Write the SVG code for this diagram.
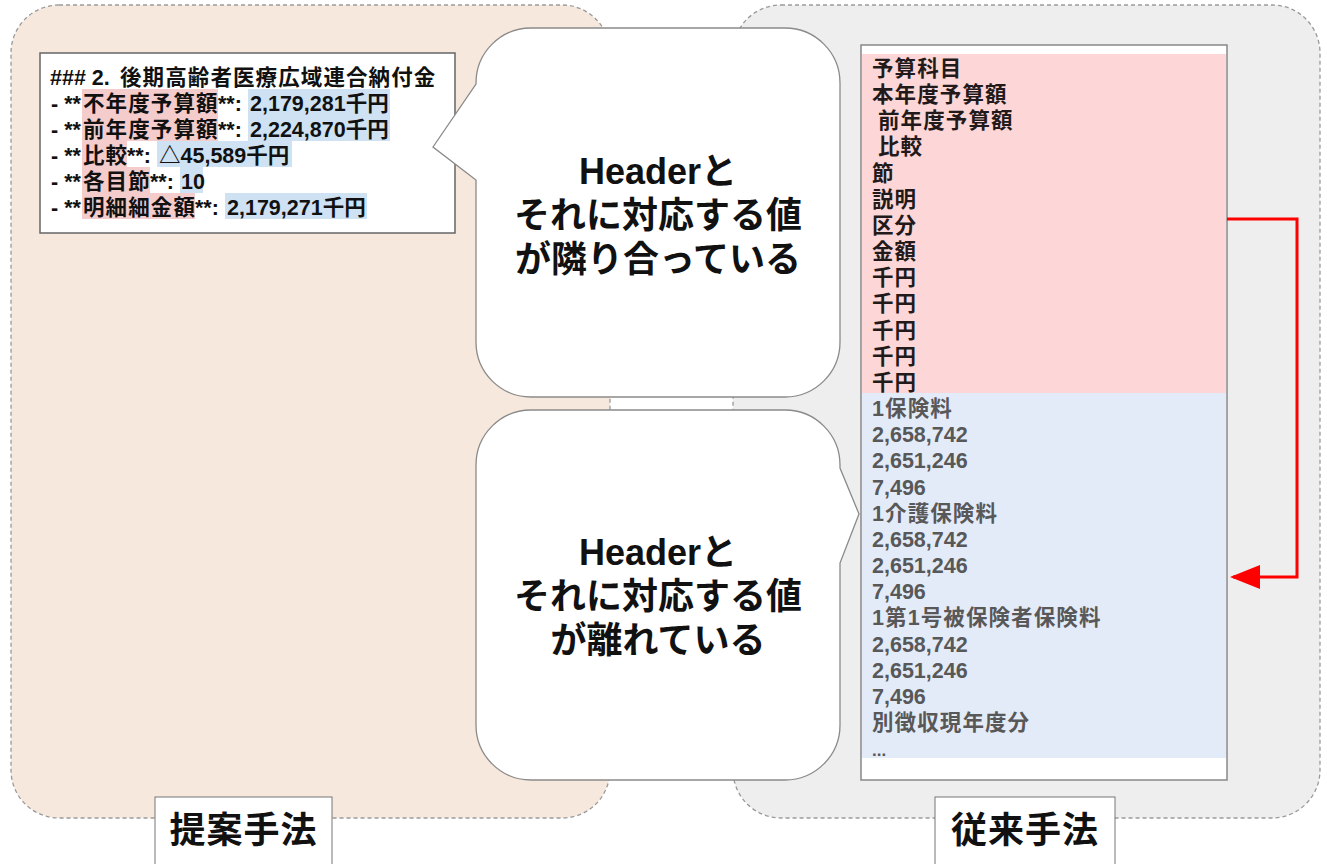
<svg xmlns="http://www.w3.org/2000/svg" width="1327" height="864" viewBox="0 0 1327 864">
<style>
text{font-family:"Liberation Sans","Noto Sans CJK JP",sans-serif;font-weight:bold}
.cont{stroke:#9a9a9a;stroke-width:1.3;stroke-dasharray:4 3}
.bub{fill:#fff;stroke:#8a8a8a;stroke-width:1.3}
.big{font-size:36px;fill:#111;text-anchor:middle}
.lt{font-size:21.5px;fill:#111}
.cj{letter-spacing:1.1px}
.pk{fill:#f4cccc}
.bl{fill:#cfe2f3}
.hd{font-size:21.5px;fill:#221a1a;letter-spacing:1.1px}
.vl{font-size:21.5px;fill:#585858}
.lab{fill:#fff;stroke:#777;stroke-width:1}
.labt{font-size:36px;fill:#111;text-anchor:middle;letter-spacing:1px}
</style>
<defs>
<marker id="ah" markerWidth="10" markerHeight="8" refX="9" refY="4" orient="auto" markerUnits="strokeWidth">
<polygon points="0,0 10,4 0,8" fill="#ff0000"/>
</marker>
</defs>
<rect width="1327" height="864" fill="#fff"/>
<g id="container-left"><rect class="cont" x="11" y="5" width="599" height="813" rx="48" fill="#f6e8dc"/></g>
<g id="container-right"><rect class="cont" x="733" y="5" width="587" height="813" rx="48" fill="#eeeeee"/></g>

<g id="proposal-box">
<rect x="40" y="53" width="415" height="180" fill="#fff" stroke="#666" stroke-width="1.5"/>
<rect class="pk" x="82" y="89" width="136" height="26"/><rect class="bl" x="248" y="89" width="142" height="26"/>
<rect class="pk" x="82" y="115" width="136" height="26"/><rect class="bl" x="248" y="115" width="142" height="26"/>
<rect class="pk" x="82" y="141" width="45" height="26"/><rect class="bl" x="157" y="141" width="135" height="26"/>
<rect class="pk" x="82" y="167" width="68" height="26"/><rect class="bl" x="180" y="167" width="23" height="26"/>
<rect class="pk" x="82" y="193" width="113" height="26"/><rect class="bl" x="225" y="193" width="142" height="26"/>
<text class="lt" y="85"><tspan x="50">### 2.</tspan><tspan x="120" class="cj">後期高齢者医療広域連合納付金</tspan></text>
<text class="lt" y="111"><tspan x="51">- **</tspan><tspan x="83" class="cj">不年度予算額</tspan><tspan x="218">**: </tspan><tspan x="250">2,179,281千円</tspan></text>
<text class="lt" y="137"><tspan x="51">- **</tspan><tspan x="83" class="cj">前年度予算額</tspan><tspan x="218">**: </tspan><tspan x="250">2,224,870千円</tspan></text>
<text class="lt" y="163"><tspan x="51">- **</tspan><tspan x="83" class="cj">比較</tspan><tspan x="127">**: </tspan><tspan x="159">△45,589千円</tspan></text>
<text class="lt" y="189"><tspan x="51">- **</tspan><tspan x="83" class="cj">各目節</tspan><tspan x="150">**: </tspan><tspan x="181">10</tspan></text>
<text class="lt" y="215"><tspan x="51">- **</tspan><tspan x="83" class="cj">明細細金額</tspan><tspan x="195">**: </tspan><tspan x="227">2,179,271千円</tspan></text>
</g>

<g id="bubble-top">
<path class="bub" d="M531,28 H785 A55,55 0 0 1 840,83 V342 A55,55 0 0 1 785,397 H531 A55,55 0 0 1 476,342 V180 L433,147 L476,84 V83 A55,55 0 0 1 531,28 Z"/>
<text class="big" x="658" y="184">Headerと</text>
<text class="big" x="658" y="228">それに対応する値</text>
<text class="big" x="658" y="272">が隣り合っている</text>
</g>

<g id="bubble-bottom">
<path class="bub" d="M531,410 H785 A55,55 0 0 1 840,465 V468 L859,514 L840,563 V725 A55,55 0 0 1 785,780 H531 A55,55 0 0 1 476,725 V465 A55,55 0 0 1 531,410 Z"/>
<text class="big" x="658" y="565">Headerと</text>
<text class="big" x="658" y="609">それに対応する値</text>
<text class="big" x="658" y="653">が離れている</text>
</g>

<g id="conventional-box">
<rect x="861" y="45" width="366" height="735" fill="#fff" stroke="#888" stroke-width="1.5"/>
<rect x="862" y="54" width="364" height="339" fill="#fdd7d7"/>
<rect x="862" y="393" width="364" height="365" fill="#e4ebf8"/>
<text class="hd" x="872" y="76">予算科目</text>
<text class="hd" x="872" y="102">本年度予算額</text>
<text class="hd" x="878" y="128">前年度予算額</text>
<text class="hd" x="878" y="154">比較</text>
<text class="hd" x="872" y="181">節</text>
<text class="hd" x="872" y="207">説明</text>
<text class="hd" x="872" y="233">区分</text>
<text class="hd" x="872" y="259">金額</text>
<text class="hd" x="872" y="285">千円</text>
<text class="hd" x="872" y="311">千円</text>
<text class="hd" x="872" y="338">千円</text>
<text class="hd" x="872" y="364">千円</text>
<text class="hd" x="872" y="390">千円</text>
<text class="vl cj" x="872" y="416">1保険料</text>
<text class="vl" x="872" y="442">2,658,742</text>
<text class="vl" x="872" y="468">2,651,246</text>
<text class="vl" x="872" y="495">7,496</text>
<text class="vl cj" x="872" y="521">1介護保険料</text>
<text class="vl" x="872" y="547">2,658,742</text>
<text class="vl" x="872" y="573">2,651,246</text>
<text class="vl" x="872" y="599">7,496</text>
<text class="vl cj" x="872" y="625">1第1号被保険者保険料</text>
<text class="vl" x="872" y="652">2,658,742</text>
<text class="vl" x="872" y="678">2,651,246</text>
<text class="vl" x="872" y="704">7,496</text>
<text class="vl cj" x="872" y="730">別徴収現年度分</text>
<text class="vl" x="872" y="756" style="font-size:17px">...</text>
</g>

<g id="connectors">
<path d="M1227,219 H1297 V577 H1233" fill="none" stroke="#ff0000" stroke-width="3" marker-end="url(#ah)"/>
</g>

<g id="label-proposed">
<rect class="lab" x="155" y="797" width="177" height="72"/>
<text class="labt" x="243.5" y="843">提案手法</text>
</g>
<g id="label-conventional">
<rect class="lab" x="935" y="797" width="180" height="72"/>
<text class="labt" x="1025" y="843">従来手法</text>
</g>
</svg>
